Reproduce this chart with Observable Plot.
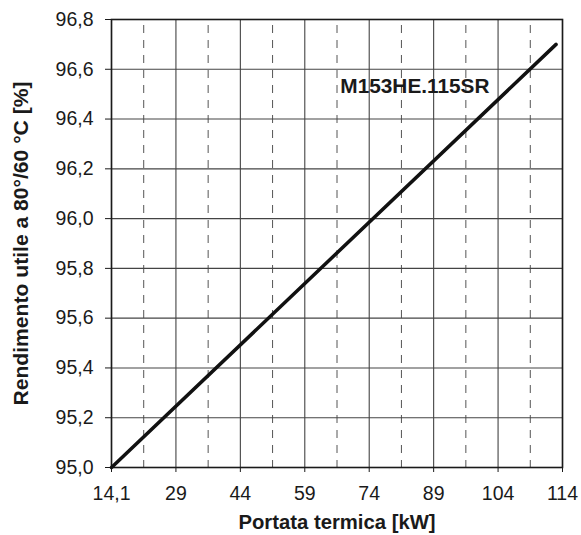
<!DOCTYPE html>
<html>
<head>
<meta charset="utf-8">
<script src="https://cdn.jsdelivr.net/npm/d3@7"></script>
<script src="https://cdn.jsdelivr.net/npm/@observablehq/plot@0.6"></script>
<style>
  html, body { margin: 0; padding: 0; background: #fff; }
</style>
</head>
<body>
<div id="chart"></div>
<script>
// Tick values of the x axis (placed at equal spacing, as in the reference)
const xTicks = [14.1, 29, 44, 59, 74, 89, 104, 114];
// Dashed intermediate vertical gridlines (midway between ticks)
const xMinor = [21.55, 36.5, 51.5, 66.5, 81.5, 96.5, 109];
// Y ticks
const yTicks = [95.0, 95.2, 95.4, 95.6, 95.8, 96.0, 96.2, 96.4, 96.6, 96.8];

// Series: thermal input [kW] vs. useful efficiency at 80/60 °C [%]
const power = [14.1, 113];
const efficiency = [95.0, 96.7];
const seriesName = "M153HE.115SR";
const seriesLabelPos = [102, 96.53];

const xTitle = "Portata termica [kW]";
const yTitle = "Rendimento utile a 80°/60 °C [%]";

const lineData = power.map((p, i) => ({p, e: efficiency[i]}));
const fmtX = d => String(d).replace(".", ",");
const fmtY = d => d.toFixed(1).replace(".", ",");

const chart = Plot.plot({
  width: 581,
  height: 535,
  marginLeft: 111,
  marginRight: 19,
  marginTop: 19,
  marginBottom: 68,
  style: {
    fontFamily: "'Liberation Sans', Arial, Helvetica, sans-serif",
    fontSize: "19.5px",
    color: "#1a1a1a",
    background: "#fff"
  },
  x: {type: "linear", domain: xTicks},
  y: {domain: [95.0, 96.8]},
  marks: [
    Plot.ruleX(xMinor, {stroke: "#555", strokeWidth: 1, strokeDasharray: "8,7", strokeDashoffset: -6}),
    Plot.ruleX(xTicks, {stroke: "#444", strokeWidth: 1.1}),
    Plot.ruleY(yTicks, {stroke: "#444", strokeWidth: 1.1}),
    Plot.frame({stroke: "#1a1a1a", strokeWidth: 1.6}),
    Plot.axisX({ticks: xTicks, tickFormat: fmtX, tickSize: 5, tickPadding: 14, label: null, stroke: "#1a1a1a"}),
    Plot.axisY({ticks: yTicks, tickFormat: fmtY, tickSize: 6, tickPadding: 12, label: null, stroke: "#1a1a1a"}),
    Plot.line(lineData, {x: "p", y: "e", stroke: "#111", strokeWidth: 3.5, strokeLinecap: "round"}),
    Plot.text([seriesName], {x: seriesLabelPos[0], y: seriesLabelPos[1], text: d => d, textAnchor: "end",
      fontWeight: "bold", fontSize: 20.8, fill: "#1a1a1a"}),
    Plot.text([xTitle], {frameAnchor: "bottom", text: d => d, textAnchor: "middle", lineAnchor: "middle",
      dy: 54.5, fontWeight: "bold", fontSize: 20.3, fill: "#1a1a1a"}),
    Plot.text([yTitle], {frameAnchor: "left", text: d => d, rotate: -90, textAnchor: "middle", lineAnchor: "middle",
      dx: -90.5, fontWeight: "bold", fontSize: 21.1, fill: "#1a1a1a"})
  ]
});
document.getElementById("chart").appendChild(chart);
</script>
</body>
</html>
